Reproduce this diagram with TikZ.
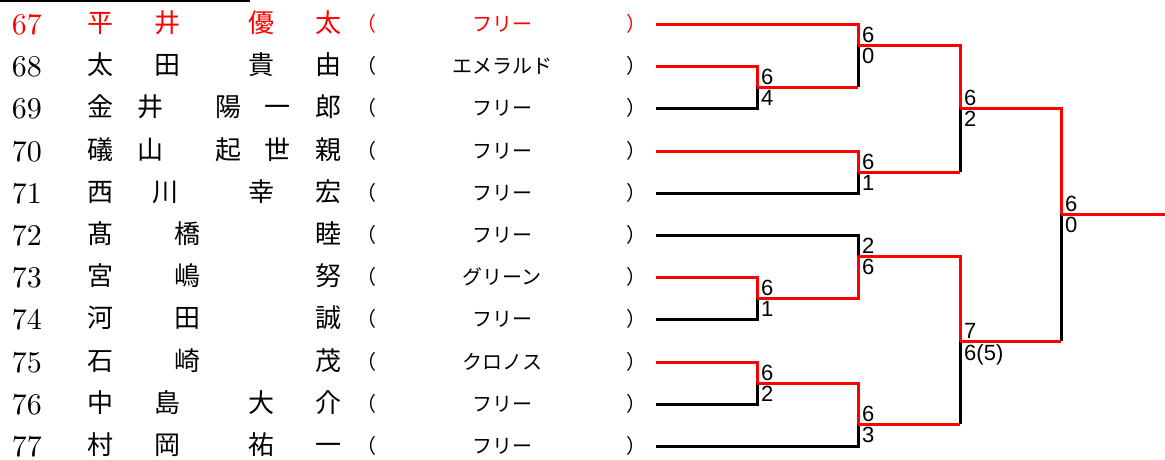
\documentclass[tikz,border=0pt]{standalone}
\usepackage{fontspec}
\newfontfamily\jpfont{Noto Sans CJK JP}
\newfontfamily\scorefont{Liberation Sans}
\newfontfamily\numfont{lmroman10-regular}[Extension=.otf]
\newcommand\pnamerow[4]{%
  \foreach \ch/\xx [count=\k] in {#4} {\node[nametxt,text=#3] (nm#1-\k) at (\xx,#2+8) {\ch};}}
\begin{document}
\begin{tikzpicture}[x=1pt,y=-1pt,
  numtxt/.style={inner sep=0pt,anchor=base,font=\numfont\fontsize{30}{30}\selectfont},
  nametxt/.style={inner sep=0pt,anchor=base,font=\jpfont\fontsize{26}{26}\selectfont},
  clubtxt/.style={inner sep=0pt,anchor=base,font=\jpfont\fontsize{20}{20}\selectfont},
  score/.style={inner sep=0pt,font=\scorefont\fontsize{22}{22}\selectfont},
  win/.style={draw=red,line width=3pt},
  lose/.style={draw=black,line width=3pt}]
\useasboundingbox (0,0) rectangle (1165,459);
\coordinate (tl0) at (0,1);
\coordinate (tl1) at (250,1);
\draw[line width=2.5pt] (tl0) -- (tl1);
% rows
\foreach \n/\y/\c/\club in {67/24/red/フリー,68/66/black/エメラルド,69/108/black/フリー,70/151/black/フリー,71/193/black/フリー,72/235/black/フリー,73/277/black/グリーン,74/319/black/フリー,75/362/black/クロノス,76/404/black/フリー,77/446/black/フリー}{
  \node[numtxt,text=\c] (num\n) at (27,\y+10) {\n};
  \node[clubtxt,text=\c] (club\n) at (502,\y+7) {\club};
  \node[clubtxt,text=\c] (lp\n) at (366,\y+7) {（};
  \node[clubtxt,text=\c] (rp\n) at (636,\y+7) {）};
  \coordinate (s\n) at (656,\y);
}
\pnamerow{67}{24}{red}{平/100,井/167,優/261,太/328}
\pnamerow{68}{66}{black}{太/100,田/167,貴/261,由/328}
\pnamerow{69}{108}{black}{金/100,井/150,陽/228,一/277,郎/328}
\pnamerow{70}{151}{black}{礒/100,山/150,起/228,世/277,親/328}
\pnamerow{71}{193}{black}{西/100,川/165,幸/261,宏/328}
\pnamerow{72}{235}{black}{髙/100,橋/187,睦/328}
\pnamerow{73}{277}{black}{宮/100,嶋/187,努/328}
\pnamerow{74}{319}{black}{河/100,田/187,誠/328}
\pnamerow{75}{362}{black}{石/100,崎/187,茂/328}
\pnamerow{76}{404}{black}{中/100,島/167,大/261,介/328}
\pnamerow{77}{446}{black}{村/100,岡/167,祐/261,一/328}
% match points
\coordinate (A) at (757,87);
\coordinate (B) at (858,45);
\coordinate (C) at (858,172);
\coordinate (D) at (960,108);
\coordinate (E) at (757,298);
\coordinate (F) at (858,256);
\coordinate (G) at (757,383);
\coordinate (H) at (858,424);
\coordinate (I) at (960,341);
\coordinate (J) at (1061,214);
\coordinate (fin) at (1165,214);
% losers
\path[lose] (s69) -| (A);
\path[lose] (A -| B) -- (B);
\path[lose] (s71) -| (C);
\path[lose] (C -| D) -- (D);
\path[lose] (s72) -| (F);
\path[lose] (s74) -| (E);
\path[lose] (s76) -| (G);
\path[lose] (s77) -| (H);
\path[lose] (H -| I) -- (I);
\path[lose] (I -| J) -- (J);
% winners
\path[win] (s67) -| (B);
\path[win] (s68) -| (A);
\path[win] (A) -- (A -| B);
\path[win] (B) -| (D);
\path[win] (s70) -| (C);
\path[win] (C) -- (C -| D);
\path[win] (D) -| (J);
\path[win] (s73) -| (E);
\path[win] (E) -| (F);
\path[win] (s75) -| (G);
\path[win] (G) -| (H);
\path[win] (F) -| (I);
\path[win] (H) -- (H -| I);
\path[win] (I) -- (I -| J);
\path[win] (J) -- (fin);
% scores
\foreach \m/\a/\b in {A/6/4,B/6/0,C/6/1,D/6/2,E/6/1,F/2/6,G/6/2,H/6/3,I/7/6(5),J/6/0}{
  \node[score,anchor=south west] (up\m) at ([xshift=4pt,yshift=2pt]\m) {\a};
  \node[score,anchor=north west] (lo\m) at ([xshift=4pt,yshift=-3pt]\m) {\b};
}
\end{tikzpicture}
\end{document}
